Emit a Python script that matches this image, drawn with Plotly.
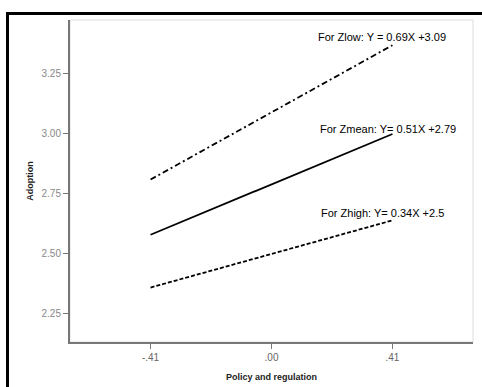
import plotly.graph_objects as go

x_vals = [-0.41, 0.41]
zlow = [2.81, 3.37]
zmean = [2.58, 3.00]
zhigh = [2.36, 2.64]
x_ticks = [-0.41, 0.0, 0.41]
x_ticklabels = ["-.41", ".00", ".41"]
y_ticks = [2.25, 2.50, 2.75, 3.00, 3.25]
y_ticklabels = ["2.25", "2.50", "2.75", "3.00", "3.25"]
labels = ["For Zlow: Y = 0.69X +3.09", "For Zmean: Y= 0.51X +2.79", "For Zhigh: Y= 0.34X +2.5"]

fig = go.Figure()
fig.add_trace(go.Scatter(x=x_vals, y=zlow, mode="lines",
                         line=dict(color="black", width=1.8, dash="6px,3px,2px,3px")))
fig.add_trace(go.Scatter(x=x_vals, y=zmean, mode="lines",
                         line=dict(color="black", width=1.8)))
fig.add_trace(go.Scatter(x=x_vals, y=zhigh, mode="lines",
                         line=dict(color="black", width=1.8, dash="4px,2px")))

font = "Liberation Sans, Arial, sans-serif"
ann_pos = [(0.373, 3.404), (0.395, 3.021), (0.376, 2.671)]
for (ax, ay), t in zip(ann_pos, labels):
    fig.add_annotation(x=ax, y=ay, text=t, showarrow=False,
                       font=dict(family=font, size=11, color="#000"))

fig.update_layout(
    width=482, height=387,
    margin=dict(l=70, r=9, t=20, b=45, autoexpand=False),
    paper_bgcolor="white", plot_bgcolor="white",
    showlegend=False,
    font=dict(family=font),
    shapes=[
        dict(type="rect", xref="paper", yref="paper", x0=0, y0=0, x1=1, y1=1,
             line=dict(color="#dddddd", width=1), layer="below"),
    ],
)
fig.update_xaxes(range=[-0.683, 0.683], tickvals=x_ticks, ticktext=x_ticklabels,
                 showgrid=False, zeroline=False, showline=True, linecolor="#777", linewidth=2,
                 ticks="outside", ticklen=5, tickcolor="#777", automargin=False,
                 tickfont=dict(size=10, color="#666", family=font),
                 title=dict(text="<b>Policy and regulation</b>", font=dict(size=9, color="#222", family=font), standoff=12))
fig.update_yaxes(range=[2.133, 3.475], tickvals=y_ticks, ticktext=y_ticklabels,
                 showgrid=False, zeroline=False, showline=True, linecolor="#777", linewidth=2,
                 ticks="outside", ticklen=5, tickcolor="#777", automargin=False,
                 tickfont=dict(size=10, color="#888", family=font),
                 title=dict(text="<b>Adoption</b>", font=dict(size=9, color="#222", family=font), standoff=6))

frame_js = (
    "document.body.style.margin='0';document.body.style.overflow='hidden';"
    "var f=document.createElement('div');"
    "f.style.cssText='position:absolute;left:6px;top:12px;width:700px;height:700px;"
    "border-left:3px solid #000;border-top:3px solid #000;pointer-events:none;';"
    "document.body.appendChild(f);"
)
fig.write_html("out.html", config={"displayModeBar": False}, post_script=frame_js)
